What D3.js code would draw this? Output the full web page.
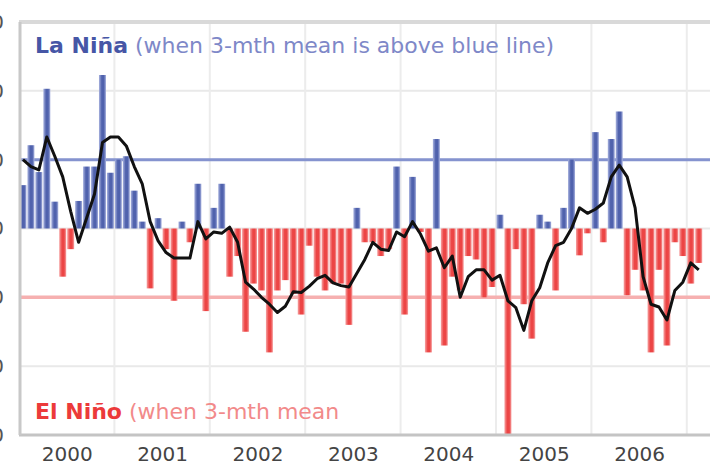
<!DOCTYPE html>
<html><head><meta charset="utf-8">
<script src="https://cdn.jsdelivr.net/npm/d3@7"></script>
<style>html,body{margin:0;padding:0;background:#fff;overflow:hidden}svg{display:block}</style>
</head><body>
<svg id="chart" width="710" height="473"></svg>
<script>
// ---- data (monthly SOI bars) ----
const yearLabels = ["2000", "2001", "2002", "2003", "2004", "2005", "2006"];
const soi2000 = [6.3, 12.1, 8.2, 20.3, 3.9, -7, -3, 4, 9, 9, 22.3, 8.1];
const soi2001 = [10, 10.5, 5.5, 1, -8.7, 1.5, -3, -10.5, 1, -2, 6.5, -12];
const soi2002 = [3, 6.5, -7, -4, -15, -8, -9, -18, -9, -7.5, -9.5, -12.5];
const soi2003 = [-2.5, -7, -9, -8, -8, -14, 3, -2, -2, -4, -3, 9];
const soi2004 = [-12.5, 7.5, -0.5, -18, 13, -17, -7, -9, -4, -4.5, -10, -8.5];
const soi2005 = [2, -30, -3, -11, -16, 2, 1, -9, 3, 10, -3.9, -0.7];
const soi2006 = [14, -2, 13, 17, -9.7, -6, -9, -18, -6, -17, -2, -4];
const soi2007 = [-8, -5];
// 3-month mean line (black)
const mean2000 = [10, 9, 8.5, 13.3, 10.5, 7.5, 2.5, -2, 1.5, 5, 12.5, 13.3];
const mean2001 = [13.3, 12, 9, 6.5, 1, -1.8, -3.5, -4.3, -4.3, -4.3, 1, -1.5];
const mean2002 = [-0.5, -0.7, 0.2, -2, -7.8, -8.8, -10, -11, -12.2, -11.3, -9.2, -9.3];
const mean2003 = [-8.4, -7.3, -6.8, -7.9, -8.3, -8.5, -6.5, -4.5, -2, -3, -3.2, -0.5];
const mean2004 = [-1.2, 1, -0.8, -3.3, -2.8, -5.7, -4, -10, -7, -6, -6, -7.5];
const mean2005 = [-6.8, -10.5, -11.5, -14.8, -10.5, -8.6, -5, -2.5, -2, 0, 3, 2.2];
const mean2006 = [2.8, 3.7, 7.5, 9.2, 7.5, 3, -7, -11, -11.4, -13.3, -9, -7.8];
const mean2007 = [-5, -6];
const yTicks = [-30, -20, -10, 0, 10, 20, 30];
const laNinaLevel = 10, elNinoLevel = -10;

const soi = [].concat(soi2000, soi2001, soi2002, soi2003, soi2004, soi2005, soi2006, soi2007);
const mean3 = [].concat(mean2000, mean2001, mean2002, mean2003, mean2004, mean2005, mean2006, mean2007);

const svg = d3.select("#chart");
const FONT = "DejaVu Sans, Verdana, sans-serif";
const plotLeft = 19, plotTop = 22, plotBottom = 435, monthW = 7.95;
const x = d3.scaleLinear().domain([0, soi.length]).range([plotLeft, plotLeft + monthW * soi.length]);
const y = d3.scaleLinear().domain([-30, 30]).range([plotBottom, plotTop]);

const defs = svg.append("defs");
function grad(id, light, dark) {
  const g = defs.append("linearGradient").attr("id", id).attr("x1", "0").attr("x2", "1").attr("y1", "0").attr("y2", "0");
  g.append("stop").attr("offset", "0%").attr("stop-color", light);
  g.append("stop").attr("offset", "40%").attr("stop-color", dark);
  g.append("stop").attr("offset", "70%").attr("stop-color", dark);
  g.append("stop").attr("offset", "100%").attr("stop-color", light);
}
grad("gBlue", "#a9b3df", "#5062ad");
grad("gRed", "#f6a3a3", "#ec4545");

// gridlines
const grid = svg.append("g");
grid.selectAll("line.h").data(yTicks.filter(t => t > -30 && t < 30)).join("line")
  .attr("x1", plotLeft).attr("x2", 710).attr("y1", d => y(d)).attr("y2", d => y(d))
  .attr("stroke", "#e9e9e9").attr("stroke-width", 2);
grid.selectAll("line.v").data(d3.range(1, yearLabels.length + 1)).join("line")
  .attr("x1", d => x(d * 12)).attr("x2", d => x(d * 12)).attr("y1", plotTop).attr("y2", plotBottom)
  .attr("stroke", "#ececec").attr("stroke-width", 2);

// threshold lines
svg.append("line").attr("x1", plotLeft).attr("x2", 710).attr("y1", y(laNinaLevel)).attr("y2", y(laNinaLevel))
  .attr("stroke", "#8593cf").attr("stroke-width", 3);
svg.append("line").attr("x1", plotLeft).attr("x2", 710).attr("y1", y(elNinoLevel)).attr("y2", y(elNinoLevel))
  .attr("stroke", "#f6b0b0").attr("stroke-width", 3.5);

// bars
const barW = 7;
svg.append("g").selectAll("rect").data(soi).join("rect")
  .attr("x", (d, i) => x(i + 0.5) - barW / 2)
  .attr("width", barW)
  .attr("y", d => d >= 0 ? y(d) : y(0))
  .attr("height", d => Math.abs(y(d) - y(0)))
  .attr("fill", d => d >= 0 ? "url(#gBlue)" : "url(#gRed)");

// 3-month mean line
svg.append("path").datum(mean3)
  .attr("d", d3.line().x((d, i) => x(i + 0.5)).y(d => y(d)))
  .attr("fill", "none").attr("stroke", "#111").attr("stroke-width", 3).attr("stroke-linejoin", "round");

// frame
svg.append("line").attr("x1", plotLeft).attr("x2", 710).attr("y1", plotTop).attr("y2", plotTop)
  .attr("stroke", "#d9d9d9").attr("stroke-width", 4);
svg.append("line").attr("x1", plotLeft).attr("x2", 710).attr("y1", plotBottom).attr("y2", plotBottom)
  .attr("stroke", "#c4c4c4").attr("stroke-width", 3);
svg.append("line").attr("x1", plotLeft + 1).attr("x2", plotLeft + 1).attr("y1", plotTop).attr("y2", plotBottom)
  .attr("stroke", "#c8c8c8").attr("stroke-width", 3);

// axes
const xAxis = svg.append("g").attr("transform", `translate(0,${plotBottom + 9})`)
  .call(d3.axisBottom(x).tickValues(yearLabels.map((d, k) => k * 12 + 6))
    .tickFormat((d, k) => yearLabels[k]).tickSize(0).tickPadding(0));
xAxis.select(".domain").remove();
xAxis.selectAll("text").attr("font-family", FONT)
  .attr("font-size", 20).attr("fill", "#444").attr("dy", "0.85em");

// y-axis labels sit mostly off the left edge, as in the (cropped) reference
const yAxis = svg.append("g").attr("transform", "translate(4,0)")
  .call(d3.axisLeft(y).tickValues(yTicks).tickSize(0).tickPadding(0));
yAxis.select(".domain").remove();
yAxis.selectAll("text").attr("font-family", FONT)
  .attr("font-size", 20).attr("fill", "#555");

// annotations
const t1 = svg.append("text").attr("x", 35).attr("y", 53)
  .attr("font-family", FONT).attr("font-size", 22);
t1.append("tspan").attr("font-weight", "bold").attr("fill", "#4656a6").text("La Niña");
t1.append("tspan").attr("fill", "#7e88c8").text(" (when 3-mth mean is above blue line)");

const t2 = svg.append("text").attr("x", 35).attr("y", 419)
  .attr("font-family", FONT).attr("font-size", 22);
t2.append("tspan").attr("font-weight", "bold").attr("fill", "#ec3a3a").text("El Niño");
t2.append("tspan").attr("fill", "#f28a8a").text(" (when 3-mth mean");
</script>
</body></html>
